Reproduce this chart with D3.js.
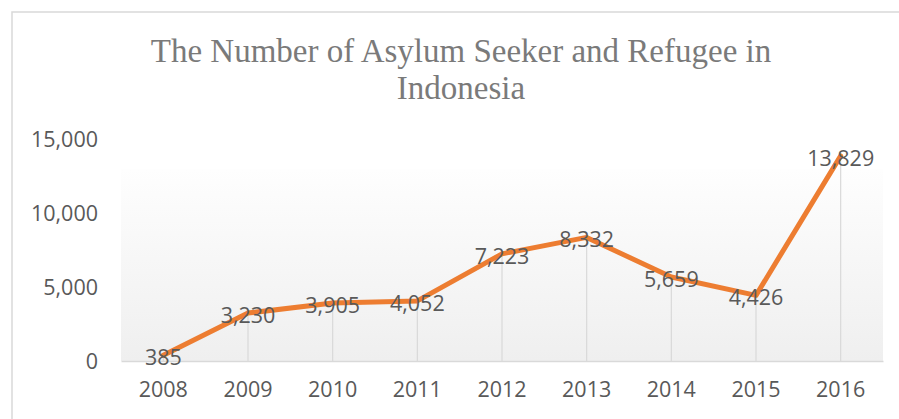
<!DOCTYPE html>
<html>
<head>
<meta charset="utf-8">
<title>Asylum Seeker and Refugee in Indonesia</title>
<script src="https://cdn.jsdelivr.net/npm/d3@7"></script>
<style>
  body { margin: 0; background: #fff; }
  .tick text { font-family: "Open Sans", sans-serif; fill: #595959; }
</style>
</head>
<body>
<svg id="chart" width="899" height="419"></svg>
<script>
// Chart data
const years = ["2008", "2009", "2010", "2011", "2012", "2013", "2014", "2015", "2016"];
const refugees = [385, 3230, 3905, 4052, 7223, 8332, 5659, 4426, 13829];
const yTicks = [0, 5000, 10000, 15000];
const titleLines = ["The Number of Asylum Seeker and Refugee in", "Indonesia"];

const svg = d3.select("#chart");

// Outer chart border (runs past the window on the right and bottom)
svg.append("rect")
    .attr("x", 12)
    .attr("y", 12)
    .attr("width", 898)
    .attr("height", 430)
    .attr("fill", "#fff")
    .attr("stroke", "#d9d9d9")
    .attr("stroke-width", 1.5);

// Plot area
const plot = {left: 121, right: 883, top: 138.5, bottom: 361};

const x = d3.scaleBand()
    .domain(years)
    .range([plot.left, plot.right]);

const y = d3.scaleLinear()
    .domain([0, 15000])
    .range([plot.bottom, plot.top]);

// Soft gradient behind the plot
const grad = svg.append("defs").append("linearGradient")
    .attr("id", "bg")
    .attr("x1", 0).attr("y1", 0)
    .attr("x2", 0).attr("y2", 1);
grad.append("stop").attr("offset", "0%").attr("stop-color", "#fefefe");
grad.append("stop").attr("offset", "100%").attr("stop-color", "#efefef");

svg.append("rect")
    .attr("x", plot.left)
    .attr("y", 169)
    .attr("width", plot.right - plot.left)
    .attr("height", plot.bottom - 169)
    .attr("fill", "url(#bg)");

// Title
svg.append("text")
    .attr("text-anchor", "middle")
    .attr("font-family", "'Liberation Serif', 'Times New Roman', serif")
    .attr("font-size", 33)
    .attr("fill", "#7a7a7a")
    .selectAll("tspan")
    .data(titleLines)
    .enter()
    .append("tspan")
    .attr("x", 461)
    .attr("y", (d, i) => 62 + i * 37)
    .text(d => d);

// Drop lines from each point to the axis
const cx = d => x(d) + x.bandwidth() / 2;
svg.append("g")
    .selectAll("line")
    .data(years)
    .enter()
    .append("line")
    .attr("x1", d => cx(d))
    .attr("x2", d => cx(d))
    .attr("y1", (d, i) => y(refugees[i]))
    .attr("y2", plot.bottom)
    .attr("stroke", "#d9d9d9")
    .attr("stroke-width", 1.2);

// Y axis (labels only)
svg.append("g")
    .attr("transform", `translate(${plot.left},0)`)
    .call(d3.axisLeft(y).tickValues(yTicks).tickFormat(d3.format(",")).tickSize(0).tickPadding(23))
    .call(g => g.select(".domain").remove())
    .selectAll("text")
    .attr("font-size", 21.5)
    .attr("dy", "0.36em");

// X axis
svg.append("g")
    .attr("transform", `translate(0,${plot.bottom})`)
    .call(d3.axisBottom(x).tickSize(0).tickPadding(21))
    .call(g => g.select(".domain").attr("stroke", "#d9d9d9").attr("stroke-width", 1.5))
    .selectAll("text")
    .attr("font-size", 21.5);

// Line
const line = d3.line()
    .x((d, i) => cx(years[i]))
    .y(d => y(d));

svg.append("path")
    .datum(refugees)
    .attr("d", line)
    .attr("fill", "none")
    .attr("stroke", "#ed7d31")
    .attr("stroke-width", 5)
    .attr("stroke-linejoin", "round")
    .attr("stroke-linecap", "round");

// Data labels centred on the points
svg.append("g")
    .selectAll("text")
    .data(refugees)
    .enter()
    .append("text")
    .attr("x", (d, i) => cx(years[i]))
    .attr("y", d => y(d) + 2)
    .attr("dy", "0.36em")
    .attr("text-anchor", "middle")
    .attr("font-family", "'Open Sans', sans-serif")
    .attr("font-size", 21.5)
    .attr("fill", "#595959")
    .text(d => d3.format(",")(d));
</script>
</body>
</html>
